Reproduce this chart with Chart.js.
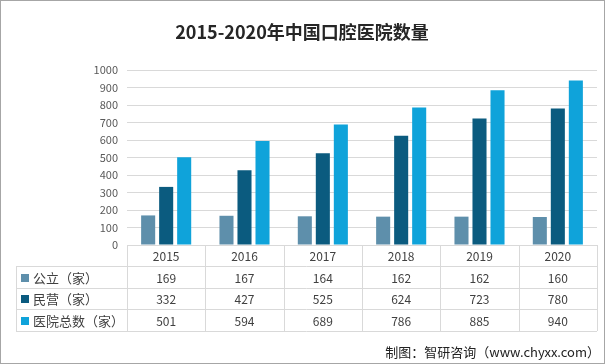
<!DOCTYPE html>
<html>
<head>
<meta charset="utf-8">
<script src="https://cdn.jsdelivr.net/npm/chart.js@4.4.0/dist/chart.umd.min.js"></script>
<style>
  html, body { margin: 0; padding: 0; background: #fff; }
  #wrap { width: 605px; height: 364px; }
</style>
</head>
<body>
<div id="wrap"><canvas id="c" width="605" height="364"></canvas></div>
<script>
/* DATA */
const years = ['2015', '2016', '2017', '2018', '2019', '2020'];
const publicCount = [169, 167, 164, 162, 162, 160];
const privateCount = [332, 427, 525, 624, 723, 780];
const totalCount = [501, 594, 689, 786, 885, 940];
const seriesNames = ['公立（家）', '民营（家）', '医院总数（家）'];
const yTicks = [0, 100, 200, 300, 400, 500, 600, 700, 800, 900, 1000];

/* COLORS */
const cPublic = '#5e8fab';
const cPrivate = '#0b5b7f';
const cTotal = '#0fa3da';
const gridColor = '#d9d9d9';
const textColor = '#404040';
const cjk = '"Noto Sans CJK SC", "Noto Sans", sans-serif';

/* TITLE, FRAME, DATA TABLE */
const tablePlugin = {
  id: 'tablePlugin',
  beforeDraw(chart) {
    const ctx = chart.ctx;
    ctx.save();
    ctx.fillStyle = '#fff';
    ctx.fillRect(0, 0, chart.width, chart.height);
    ctx.restore();
  },
  afterDraw(chart) {
    const ctx = chart.ctx;
    const area = chart.chartArea;
    const xs = chart.scales.x;
    const n = years.length;
    const w = (area.right - area.left) / n;
    const tableLeft = 16;
    const rowTops = [area.bottom, 266, 288, 309];
    const tableBottom = 331;
    const rows = [publicCount, privateCount, totalCount];
    const colors = [cPublic, cPrivate, cTotal];

    ctx.save();
    // frame
    ctx.strokeStyle = '#a6a6a6';
    ctx.lineWidth = 1;
    ctx.strokeRect(0.5, 0.5, chart.width - 1, chart.height - 1);

    // title
    ctx.fillStyle = '#262626';
    ctx.font = 'bold 18px ' + cjk;
    ctx.textAlign = 'center';
    ctx.textBaseline = 'middle';
    ctx.fillText('2015-2020年中国口腔医院数量', 302, 32);

    // table lines
    ctx.strokeStyle = gridColor;
    ctx.beginPath();
    ctx.moveTo(area.left, area.bottom + 0.5);
    ctx.lineTo(area.right, area.bottom + 0.5);
    for (let r = 1; r < rowTops.length; r++) {
      ctx.moveTo(tableLeft, rowTops[r] + 0.5);
      ctx.lineTo(area.right, rowTops[r] + 0.5);
    }
    ctx.moveTo(tableLeft, tableBottom + 0.5);
    ctx.lineTo(area.right, tableBottom + 0.5);
    ctx.moveTo(tableLeft + 0.5, rowTops[1]);
    ctx.lineTo(tableLeft + 0.5, tableBottom);
    for (let i = 0; i <= n; i++) {
      const x = Math.round(area.left + i * w) + 0.5;
      ctx.moveTo(x, area.bottom);
      ctx.lineTo(x, tableBottom);
    }
    ctx.stroke();

    // header years
    ctx.fillStyle = textColor;
    ctx.font = '12px ' + cjk;
    ctx.textAlign = 'center';
    const hy = (rowTops[0] + rowTops[1]) / 2 + 1;
    years.forEach((y, i) => {
      ctx.fillText(y, xs.getPixelForValue(i), hy);
    });

    // rows
    rows.forEach((vals, r) => {
      const top = rowTops[r + 1];
      const bot = r + 2 < rowTops.length ? rowTops[r + 2] : tableBottom;
      const cy = (top + bot) / 2 + 1;
      ctx.fillStyle = colors[r];
      ctx.fillRect(21, Math.round(cy - 4.5), 8, 8);
      ctx.fillStyle = textColor;
      ctx.textAlign = 'left';
      ctx.font = '13px ' + cjk;
      ctx.fillText(seriesNames[r], 33, cy);
      ctx.textAlign = 'center';
      ctx.font = '12px ' + cjk;
      vals.forEach((v, i) => {
        ctx.fillText(String(v), xs.getPixelForValue(i), cy);
      });
    });

    // source
    ctx.fillStyle = '#222';
    ctx.font = '13px ' + cjk;
    ctx.textAlign = 'right';
    ctx.fillText('制图：智研咨询（www.chyxx.com）', 600, 352);
    ctx.restore();
  },
};

new Chart(document.getElementById('c'), {
  type: 'bar',
  data: {
    labels: years,
    datasets: [
      { label: seriesNames[0], data: publicCount, backgroundColor: cPublic },
      { label: seriesNames[1], data: privateCount, backgroundColor: cPrivate },
      { label: seriesNames[2], data: totalCount, backgroundColor: cTotal },
    ],
  },
  options: {
    responsive: false,
    animation: false,
    layout: { padding: { top: 70, bottom: 119, left: 0, right: 8 } },
    datasets: { bar: { categoryPercentage: 0.69, barPercentage: 0.78 } },
    scales: {
      x: { display: false },
      y: {
        min: 0,
        max: 1000,
        afterBuildTicks(scale) {
          scale.ticks = yTicks.map((v) => ({ value: v }));
        },
        afterFit(scale) {
          scale.width = 127;
        },
        border: { display: false },
        grid: { color: gridColor, drawTicks: false },
        ticks: {
          color: '#595959',
          padding: 9,
          font: { size: 11, family: cjk },
          callback: (v) => String(v),
        },
      },
    },
    plugins: {
      legend: { display: false },
      tooltip: { enabled: false },
    },
  },
  plugins: [tablePlugin],
});
</script>
</body>
</html>
